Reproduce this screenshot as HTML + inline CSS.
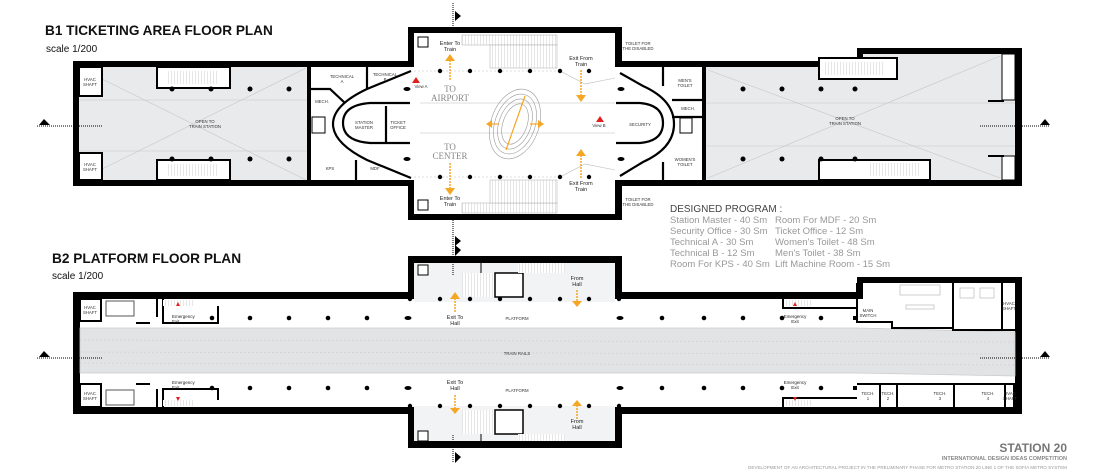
<!DOCTYPE html>
<html><head><meta charset="utf-8"><style>
html,body{margin:0;padding:0;background:#fff;}
svg{display:block;font-family:"Liberation Sans",sans-serif;}
.t{font-size:4.3px;fill:#333;text-anchor:middle;}
.o{fill:#f5a623;}
.sm{font-size:5.5px;fill:#222;text-anchor:middle;}
</style></head><body>
<svg width="1093" height="472" viewBox="0 0 1093 472" xmlns="http://www.w3.org/2000/svg">
<defs>
<pattern id="st" width="3" height="4" patternUnits="userSpaceOnUse"><rect width="3" height="4" fill="#fff"/><line x1="0" y1="0" x2="0" y2="4" stroke="#aaa" stroke-width="0.6"/></pattern>
</defs>

<!-- TITLES -->
<text x="45" y="35" font-size="13.6" font-weight="bold" fill="#111">B1 TICKETING AREA FLOOR PLAN</text>
<text x="46" y="52" font-size="10" fill="#111">scale 1/200</text>
<text x="52" y="263" font-size="13.7" font-weight="bold" fill="#111">B2 PLATFORM FLOOR PLAN</text>
<text x="52" y="279" font-size="10" fill="#111">scale 1/200</text>

<!-- ============ B1 ============ -->
<path d="M73 61 H408 V27 H622 V61 H857 V48 H1022 V186 H622 V220 H408 V186 H73 Z" fill="#000"/>
<rect x="79" y="67" width="228" height="113" fill="#e8eaec"/>
<rect x="311" y="67" width="97" height="113" fill="#fff"/>
<rect x="414" y="33" width="201" height="181" fill="#fff"/>
<rect x="408" y="67" width="214" height="113" fill="#fff"/>
<rect x="620" y="67" width="82" height="113" fill="#fff"/>
<rect x="706" y="67" width="309" height="113" fill="#e8eaec"/>
<rect x="863" y="54" width="152" height="14" fill="#e8eaec"/>
<rect x="307" y="62" width="4" height="124" fill="#000"/>
<rect x="702" y="62" width="4" height="124" fill="#000"/>
<g stroke="#c4c6c8" stroke-width="0.6">
<line x1="80" y1="68" x2="306" y2="180"/><line x1="80" y1="180" x2="306" y2="68"/>
<line x1="79" y1="100" x2="307" y2="100"/><line x1="79" y1="151" x2="307" y2="151"/>
<line x1="708" y1="70" x2="1000" y2="178"/><line x1="708" y1="178" x2="1000" y2="56"/>
<line x1="706" y1="103" x2="1015" y2="103"/><line x1="706" y1="146" x2="1015" y2="146"/>
</g>
<rect x="79" y="67" width="23" height="29" fill="#fff" stroke="#000" stroke-width="2"/>
<rect x="79" y="153" width="23" height="27" fill="#fff" stroke="#000" stroke-width="2"/>
<text class="t" x="90" y="81">HVAC</text><text class="t" x="90" y="86">SHAFT</text>
<text class="t" x="90" y="166">HVAC</text><text class="t" x="90" y="171">SHAFT</text>
<rect x="157" y="67" width="73" height="21" fill="#fff" stroke="#000" stroke-width="2"/>
<rect x="166" y="71" width="52" height="13" fill="url(#st)"/>
<rect x="157" y="160" width="73" height="20" fill="#fff" stroke="#000" stroke-width="2"/>
<rect x="166" y="164" width="52" height="12" fill="url(#st)"/>
<rect x="819" y="58" width="78" height="21" fill="#fff" stroke="#000" stroke-width="2"/>
<rect x="825" y="62" width="60" height="13" fill="url(#st)"/>
<rect x="819" y="160" width="111" height="20" fill="#fff" stroke="#000" stroke-width="2"/>
<rect x="870" y="163" width="50" height="13" fill="url(#st)"/>
<rect x="1002" y="54" width="13" height="46" fill="#fff" stroke="#000" stroke-width="1"/>
<rect x="1002" y="156" width="13" height="24" fill="#fff" stroke="#000" stroke-width="1"/>
<rect x="988" y="100" width="16" height="2" fill="#000"/><rect x="988" y="155" width="16" height="2" fill="#000"/>
<text class="t" x="205" y="123">OPEN TO</text><text class="t" x="205" y="128">TRAIN STATION</text>
<text class="t" x="845" y="120">OPEN TO</text><text class="t" x="845" y="125">TRAIN STATION</text>
<g fill="#000">
<circle cx="172" cy="89" r="2.5"/><circle cx="211" cy="89" r="2.5"/><circle cx="250" cy="89" r="2.5"/><circle cx="289" cy="89" r="2.5"/>
<circle cx="172" cy="159" r="2.5"/><circle cx="211" cy="159" r="2.5"/><circle cx="250" cy="159" r="2.5"/><circle cx="289" cy="159" r="2.5"/>
<circle cx="743" cy="89" r="2.5"/><circle cx="782" cy="89" r="2.5"/><circle cx="821" cy="89" r="2.5"/><circle cx="855" cy="89" r="2.5"/>
<circle cx="743" cy="159" r="2.5"/><circle cx="782" cy="159" r="2.5"/><circle cx="821" cy="159" r="2.5"/><circle cx="855" cy="159" r="2.5"/>
</g>
<g fill="none" stroke="#000" stroke-width="2.2">
<path d="M411 71 L367 89 Q333 105 333 124 Q333 143 367 160 L411 178"/>
<path d="M410 103 H370 Q343 105 343 123 Q343 141 370 143 H410"/>
<line x1="367" y1="63" x2="367" y2="89"/>
<path d="M311 89 H330 L345 103"/>
<line x1="356" y1="160" x2="356" y2="181"/>
<line x1="386" y1="106" x2="386" y2="143"/>
</g>
<rect x="312" y="117" width="13" height="16" fill="#fff" stroke="#000" stroke-width="1"/>
<text class="t" x="342" y="78">TECHNICAL</text><text class="t" x="342" y="83">A</text>
<text class="t" x="385" y="76">TECHNICAL</text><text class="t" x="385" y="81">B</text>
<text class="t" x="322" y="103">MECH.</text>
<text class="t" x="364" y="124">STATION</text><text class="t" x="364" y="129">MASTER</text>
<text class="t" x="398" y="124">TICKET</text><text class="t" x="398" y="129">OFFICE</text>
<text class="t" x="330" y="170">KPS</text><text class="t" x="375" y="170">MDF</text>
<g fill="none" stroke="#000" stroke-width="2.2">
<path d="M620 73 L643 86 Q674 100 674 124 Q674 148 643 162 L620 176"/>
<path d="M616 103 H640 Q663 105 663 123 Q663 141 640 143 H616"/>
<line x1="663" y1="63" x2="663" y2="86"/><line x1="663" y1="162" x2="663" y2="186"/>
<line x1="672" y1="100" x2="702" y2="100"/><line x1="672" y1="117" x2="702" y2="117"/>
</g>
<rect x="680" y="118" width="12" height="15" fill="#fff" stroke="#000" stroke-width="1"/>
<text class="t" x="685" y="82">MEN'S</text><text class="t" x="685" y="87">TOILET</text>
<text class="t" x="688" y="110">MECH.</text>
<text class="t" x="640" y="126">SECURITY</text>
<text class="t" x="685" y="161">WOMEN'S</text><text class="t" x="685" y="166">TOILET</text>
<text class="t" x="638" y="45">TOILET FOR</text><text class="t" x="638" y="50">THE DISABLED</text>
<text class="t" x="638" y="201">TOILET FOR</text><text class="t" x="638" y="206">THE DISABLED</text>
<rect x="462" y="35" width="95" height="10" fill="url(#st)" stroke="#aaa" stroke-width="0.5"/>
<rect x="490" y="45" width="67" height="23" fill="url(#st)" stroke="#aaa" stroke-width="0.5"/>
<rect x="462" y="203" width="95" height="10" fill="url(#st)" stroke="#aaa" stroke-width="0.5"/>
<rect x="490" y="180" width="67" height="23" fill="url(#st)" stroke="#aaa" stroke-width="0.5"/>
<rect x="418" y="37" width="10" height="10" fill="#fff" stroke="#000" stroke-width="1"/>
<rect x="418" y="200" width="10" height="10" fill="#fff" stroke="#000" stroke-width="1"/>
<g stroke="#bbb" stroke-width="0.6" fill="none">
<line x1="414" y1="71" x2="560" y2="71" stroke-dasharray="2 2"/>
<line x1="414" y1="177" x2="560" y2="177" stroke-dasharray="2 2"/>
<path d="M560 71 L585 84 L615 78"/><path d="M560 177 L585 164 L615 170"/>
<path d="M420 103 H615 M420 133 H615"/>
</g>
<g fill="#000">
<circle cx="440" cy="71" r="2.2"/><circle cx="470" cy="71" r="2.2"/><circle cx="500" cy="71" r="2.2"/><circle cx="530" cy="71" r="2.2"/><circle cx="560" cy="71" r="2.2"/><circle cx="589" cy="71" r="2.2"/>
<circle cx="440" cy="177" r="2.2"/><circle cx="470" cy="177" r="2.2"/><circle cx="500" cy="177" r="2.2"/><circle cx="530" cy="177" r="2.2"/><circle cx="560" cy="177" r="2.2"/><circle cx="589" cy="177" r="2.2"/>
<ellipse cx="407" cy="89" rx="3.5" ry="2"/><ellipse cx="407" cy="159" rx="3.5" ry="2"/>
<ellipse cx="621" cy="89" rx="3.5" ry="2"/><ellipse cx="621" cy="159" rx="3.5" ry="2"/>
</g>
<g fill="none" stroke="#999" stroke-width="0.6" transform="rotate(20 515 124)">
<ellipse cx="515" cy="124" rx="24" ry="36"/><ellipse cx="515" cy="124" rx="20" ry="31"/><ellipse cx="515" cy="124" rx="16" ry="26"/><ellipse cx="515" cy="124" rx="12" ry="21"/>
</g>
<line x1="506" y1="150" x2="525" y2="96" stroke="#f5a623" stroke-width="1.2"/>
<text x="450" y="92" font-family="Liberation Serif,serif" font-size="9" fill="#888" text-anchor="middle">TO</text>
<text x="450" y="101" font-family="Liberation Serif,serif" font-size="9" fill="#888" text-anchor="middle">AIRPORT</text>
<text x="450" y="150" font-family="Liberation Serif,serif" font-size="9" fill="#888" text-anchor="middle">TO</text>
<text x="450" y="159" font-family="Liberation Serif,serif" font-size="9" fill="#888" text-anchor="middle">CENTER</text>
<text class="sm" x="450" y="45">Enter To</text><text class="sm" x="450" y="51">Train</text>
<text class="sm" x="450" y="200">Enter To</text><text class="sm" x="450" y="206">Train</text>
<text class="sm" x="581" y="60">Exit From</text><text class="sm" x="581" y="66">Train</text>
<text class="sm" x="581" y="185">Exit From</text><text class="sm" x="581" y="191">Train</text>
<g stroke="#f5a623" stroke-width="1.5" stroke-dasharray="2 1" fill="none">
<line x1="450" y1="60" x2="450" y2="80"/><line x1="450" y1="163" x2="450" y2="188"/>
<line x1="581" y1="70" x2="581" y2="95"/><line x1="581" y1="155" x2="581" y2="178"/>
</g>
<g class="o">
<path d="M445 61 L450 54 L455 61 Z"/><path d="M445 188 L450 195 L455 188 Z"/>
<path d="M576 95 L581 102 L586 95 Z"/><path d="M576 156 L581 149 L586 156 Z"/>
<path d="M492 120 L486 124 L492 128 Z"/><path d="M538 120 L544 124 L538 128 Z"/>
</g>
<g stroke="#f5a623" stroke-width="1.2"><line x1="492" y1="124" x2="499" y2="124"/><line x1="530" y1="124" x2="538" y2="124"/></g>
<path d="M412 83 L416 77 L420 83 Z" fill="#e02020"/><text class="t" x="421" y="88">View A</text>
<path d="M596 122 L600 116 L604 122 Z" fill="#e02020"/><text class="t" x="599" y="127">View B</text>
<g stroke="#000" stroke-width="1" stroke-dasharray="1 1"><line x1="453" y1="3" x2="453" y2="28"/><line x1="453" y1="220" x2="453" y2="247"/>
<line x1="37" y1="126" x2="103" y2="126"/><line x1="980" y1="126" x2="1050" y2="126"/></g>
<path d="M455 11 L461 16 L455 21 Z M455 236 L461 241 L455 246 Z M39 125 L44 119 L50 125 Z M1040 125 L1045 119 L1050 125 Z" fill="#000"/>

<text x="670" y="212" font-size="10" fill="#444">DESIGNED PROGRAM :</text>
<g font-size="9.5" fill="#999">
<text x="670" y="223">Station Master - 40 Sm</text><text x="670" y="234">Security Office - 30 Sm</text><text x="670" y="245">Technical A - 30 Sm</text><text x="670" y="256">Technical B - 12 Sm</text><text x="670" y="267">Room For KPS - 40 Sm</text>
<text x="775" y="223">Room For MDF - 20 Sm</text><text x="775" y="234">Ticket Office - 12 Sm</text><text x="775" y="245">Women's Toilet - 48 Sm</text><text x="775" y="256">Men's Toilet - 38 Sm</text><text x="775" y="267">Lift Machine Room - 15 Sm</text>
</g>

<!-- ============ B2 ============ -->
<path d="M73 292 H408 V256 H622 V292 H857 V277 H1022 V414 H622 V448 H408 V414 H73 Z" fill="#000"/>
<rect x="80" y="299" width="935" height="108" fill="#fff"/>
<rect x="414" y="263" width="201" height="178" fill="#fff"/>
<rect x="863" y="283" width="152" height="20" fill="#fff"/>
<rect x="414" y="263" width="201" height="39" fill="#f2f3f4"/>
<rect x="414" y="406" width="201" height="35" fill="#f2f3f4"/>
<path d="M80 328 H857 L1015 332 V376 L857 373 H80 Z" fill="#e2e3e5" stroke="#ccc" stroke-width="0.8"/>
<g stroke="#c8c8c8" stroke-width="0.5" stroke-dasharray="2 2">
<line x1="80" y1="340" x2="1015" y2="342"/><line x1="80" y1="352" x2="1015" y2="354"/><line x1="80" y1="363" x2="1015" y2="365"/></g>
<text class="t" x="517" y="355" font-size="4.5">TRAIN RAILS</text>
<text class="t" x="517" y="320" font-size="4.5">PLATFORM</text><text class="t" x="517" y="392" font-size="4.5">PLATFORM</text>
<rect x="80" y="299" width="21" height="22" fill="#fff" stroke="#000" stroke-width="2"/>
<rect x="80" y="384" width="21" height="23" fill="#fff" stroke="#000" stroke-width="2"/>
<text class="t" x="90" y="309">HVAC</text><text class="t" x="90" y="314">SHAFT</text>
<text class="t" x="90" y="395">HVAC</text><text class="t" x="90" y="400">SHAFT</text>
<rect x="106" y="301" width="28" height="15" fill="#fff" stroke="#555" stroke-width="1"/>
<rect x="106" y="390" width="28" height="15" fill="#fff" stroke="#555" stroke-width="1"/>
<g stroke="#000" stroke-width="2" fill="none">
<path d="M157 299 V317 M163 299 V323 H218 V306 M163 407 V389 H218 V400"/>
<path d="M136 323 H150 M136 384 H150 M157 407 V389"/></g>
<rect x="163" y="300" width="30" height="6" fill="url(#st)"/><rect x="163" y="400" width="30" height="6" fill="url(#st)"/>
<text x="172" y="318" font-size="4.5" fill="#222">Emergency</text><text x="172" y="323" font-size="4.5" fill="#222">Exit</text>
<text x="172" y="384" font-size="4.5" fill="#222">Emergency</text><text x="172" y="389" font-size="4.5" fill="#222">Exit</text>
<path d="M176 306 L178 302 L180 306 Z M176 397 L178 401 L180 397 Z" fill="#e02020"/>
<rect x="462" y="273" width="33" height="24" fill="url(#st)"/>
<rect x="495" y="273" width="28" height="24" fill="#fff" stroke="#000" stroke-width="1.5"/>
<rect x="518" y="263" width="47" height="10" fill="url(#st)"/>
<line x1="481" y1="263" x2="481" y2="273" stroke="#000" stroke-width="1"/>
<rect x="462" y="410" width="33" height="24" fill="url(#st)"/>
<rect x="495" y="410" width="28" height="24" fill="#fff" stroke="#000" stroke-width="1.5"/>
<rect x="518" y="434" width="47" height="7" fill="url(#st)"/>
<line x1="481" y1="434" x2="481" y2="441" stroke="#000" stroke-width="1"/>
<rect x="418" y="265" width="10" height="10" fill="#fff" stroke="#000" stroke-width="1"/>
<rect x="418" y="431" width="10" height="10" fill="#fff" stroke="#000" stroke-width="1"/>
<g fill="#000">
<circle cx="212" cy="318" r="2.3"/><circle cx="250" cy="318" r="2.3"/><circle cx="289" cy="318" r="2.3"/><circle cx="328" cy="318" r="2.3"/><circle cx="367" cy="318" r="2.3"/>
<circle cx="212" cy="388" r="2.3"/><circle cx="250" cy="388" r="2.3"/><circle cx="289" cy="388" r="2.3"/><circle cx="328" cy="388" r="2.3"/><circle cx="367" cy="388" r="2.3"/>
<ellipse cx="408" cy="318" rx="3.5" ry="2"/><ellipse cx="408" cy="388" rx="3.5" ry="2"/>
<ellipse cx="620" cy="318" rx="3.5" ry="2"/><ellipse cx="620" cy="388" rx="3.5" ry="2"/>
<circle cx="662" cy="318" r="2.3"/><circle cx="704" cy="318" r="2.3"/><circle cx="743" cy="318" r="2.3"/><circle cx="782" cy="318" r="2.3"/><circle cx="821" cy="318" r="2.3"/>
<circle cx="662" cy="388" r="2.3"/><circle cx="704" cy="388" r="2.3"/><circle cx="743" cy="388" r="2.3"/><circle cx="782" cy="388" r="2.3"/><circle cx="821" cy="388" r="2.3"/>
<circle cx="410" cy="299" r="2.2"/><circle cx="440" cy="299" r="2.2"/><circle cx="470" cy="299" r="2.2"/><circle cx="500" cy="299" r="2.2"/><circle cx="530" cy="299" r="2.2"/><circle cx="560" cy="299" r="2.2"/><circle cx="589" cy="299" r="2.2"/><circle cx="619" cy="299" r="2.2"/>
<circle cx="410" cy="406" r="2.2"/><circle cx="440" cy="406" r="2.2"/><circle cx="470" cy="406" r="2.2"/><circle cx="500" cy="406" r="2.2"/><circle cx="530" cy="406" r="2.2"/><circle cx="560" cy="406" r="2.2"/><circle cx="589" cy="406" r="2.2"/><circle cx="619" cy="406" r="2.2"/>
<rect x="853" y="316" width="4" height="4"/><rect x="853" y="386" width="4" height="4"/>
</g>
<g stroke="#f5a623" stroke-width="1.5" stroke-dasharray="2 1"><line x1="455" y1="298" x2="455" y2="312"/><line x1="577" y1="290" x2="577" y2="302"/><line x1="455" y1="395" x2="455" y2="410"/><line x1="577" y1="405" x2="577" y2="420"/></g>
<g class="o"><path d="M450 299 L455 292 L460 299 Z"/><path d="M572 301 L577 307 L582 301 Z"/><path d="M450 408 L455 414 L460 408 Z"/><path d="M572 406 L577 400 L582 406 Z"/></g>
<text class="sm" x="455" y="319" font-size="4.5">Exit To</text><text class="sm" x="455" y="325" font-size="4.5">Hall</text>
<text class="sm" x="455" y="384" font-size="4.5">Exit To</text><text class="sm" x="455" y="390" font-size="4.5">Hall</text>
<text class="sm" x="577" y="280" font-size="4.5">From</text><text class="sm" x="577" y="286" font-size="4.5">Hall</text>
<text class="sm" x="577" y="423" font-size="4.5">From</text><text class="sm" x="577" y="429" font-size="4.5">Hall</text>
<g stroke="#000" stroke-width="2" fill="none">
<path d="M783 299 V308 H857 M783 407 V398 H857"/>
<path d="M857 283 V322 H892 V328 H953 V330 H1015"/>
<path d="M857 384 H1015 M880 384 V407 M897 384 V407 M954 384 V407 M1014 384 V407 M1005 384 V407"/>
<path d="M953 283 V330 M1002 283 V330"/>
</g>
<rect x="784" y="300" width="28" height="6" fill="url(#st)"/><rect x="784" y="400" width="28" height="6" fill="url(#st)"/>
<rect x="900" y="285" width="40" height="10" fill="none" stroke="#bbb" stroke-width="0.7"/><rect x="906" y="305" width="28" height="4" fill="none" stroke="#bbb" stroke-width="0.7"/>
<rect x="960" y="288" width="14" height="10" fill="none" stroke="#bbb" stroke-width="0.7"/><rect x="980" y="288" width="14" height="10" fill="none" stroke="#bbb" stroke-width="0.7"/>
<text x="795" y="318" font-size="4.5" fill="#222" text-anchor="middle">Emergency</text><text x="795" y="323" font-size="4.5" fill="#222" text-anchor="middle">Exit</text>
<text x="795" y="384" font-size="4.5" fill="#222" text-anchor="middle">Emergency</text><text x="795" y="389" font-size="4.5" fill="#222" text-anchor="middle">Exit</text>
<path d="M793 306 L795 302 L797 306 Z M793 397 L795 401 L797 397 Z" fill="#e02020"/>
<text class="t" x="868" y="312">MAIN</text><text class="t" x="868" y="317">SWITCH</text>
<text class="t" x="1009" y="305">HVAC</text><text class="t" x="1009" y="310">SHAFT</text>
<text class="t" x="868" y="395">TECH.</text><text class="t" x="868" y="400">1</text>
<text class="t" x="888" y="395">TECH.</text><text class="t" x="888" y="400">2</text>
<text class="t" x="940" y="395">TECH.</text><text class="t" x="940" y="400">3</text>
<text class="t" x="988" y="395">TECH.</text><text class="t" x="988" y="400">4</text>
<text class="t" x="1010" y="395">HVAC</text><text class="t" x="1010" y="400">SHAFT</text>
<g stroke="#000" stroke-width="1" stroke-dasharray="1 1"><line x1="453" y1="240" x2="453" y2="275"/><line x1="453" y1="435" x2="453" y2="462"/>
<line x1="37" y1="358" x2="103" y2="358"/><line x1="980" y1="358" x2="1050" y2="358"/></g>
<path d="M455 245 L461 250 L455 256 Z M455 452 L461 457 L455 463 Z M39 357 L44 351 L50 357 Z M1040 357 L1045 351 L1050 357 Z" fill="#000"/>

<text x="1067" y="452" font-size="12" font-weight="bold" fill="#777" text-anchor="end">STATION 20</text>
<text x="1067" y="460" font-size="5.5" font-weight="bold" fill="#888" text-anchor="end">INTERNATIONAL DESIGN IDEAS COMPETITION</text>
<text x="1067" y="469" font-size="4.6" fill="#999" text-anchor="end">DEVELOPMENT OF AN ARCHITECTURAL PROJECT IN THE PRELIMINARY PHASE FOR METRO STATION 20 LINE 1 OF THE SOFIA METRO SYSTEM</text>
</svg>
</body></html>
